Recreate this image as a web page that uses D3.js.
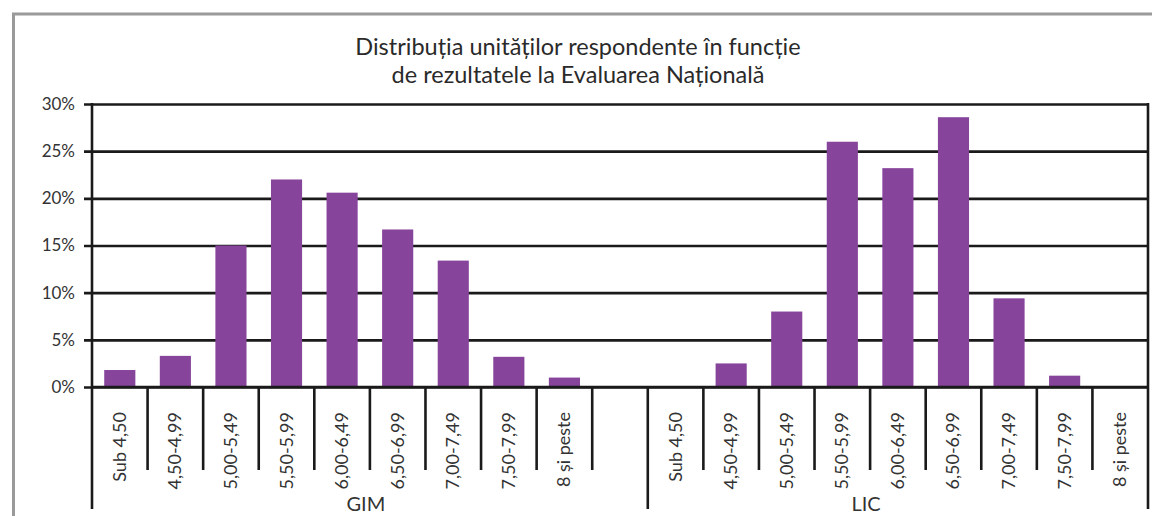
<!DOCTYPE html>
<html>
<head>
<meta charset="utf-8">
<script src="https://cdn.jsdelivr.net/npm/d3@7"></script>
<style>
  html, body { margin: 0; padding: 0; background: #fff; }
  svg { display: block; font-family: Lato, "Open Sans", sans-serif; }
</style>
</head>
<body>
<div id="chart"></div>
<script>
(() => {
// categories (score bands) shown for each school type
const scoreBands = ['Sub 4,50', '4,50-4,99', '5,00-5,49', '5,50-5,99', '6,00-6,49', '6,50-6,99', '7,00-7,49', '7,50-7,99', '8 și peste'];
const groups = ['GIM', 'LIC'];
// percentages
const gimValues = [1.8, 3.3, 15.0, 22.0, 20.6, 16.7, 13.4, 3.2, 1.0];
const licValues = [0, 2.5, 8.0, 26.0, 23.2, 28.6, 9.4, 1.2, 0];
const yTicks = [0, 5, 10, 15, 20, 25, 30];
const titleLines = ['Distribuția unităților respondente în funcție', 'de rezultatele la Evaluarea Națională'];

const width = 1152;
const height = 516;
const left = 92, right = 1148, top = 104, bottom = 387;

// one empty slot between the two groups, like the original sheet
const rows = [];
scoreBands.forEach((b, i) => rows.push({ key: 'GIM|' + b, group: 'GIM', band: b, value: gimValues[i] }));
rows.push({ key: 'gap', group: null, band: '', value: null });
scoreBands.forEach((b, i) => rows.push({ key: 'LIC|' + b, group: 'LIC', band: b, value: licValues[i] }));

const svg = d3.select('#chart')
    .append('svg')
    .attr('width', width)
    .attr('height', height);

// grey frame of the page
svg.append('rect')
    .attr('x', 13.5).attr('y', 14)
    .attr('width', width + 20).attr('height', height + 20)
    .attr('fill', 'none')
    .attr('stroke', '#9a9a9a')
    .attr('stroke-width', 3);

const x = d3.scaleBand().domain(rows.map(d => d.key)).range([left, right]);
const xBar = d3.scaleBand().domain(rows.map(d => d.key)).range([left, right])
    .paddingInner(0.44).paddingOuter(0.22);
const y = d3.scaleLinear().domain([0, 30]).range([bottom, top]);

// title
svg.append('g').selectAll('text')
    .data(titleLines)
    .enter()
    .append('text')
    .attr('x', 578)
    .attr('y', (d, i) => 55 + i * 28)
    .attr('text-anchor', 'middle')
    .attr('font-size', 23.5)
    .attr('fill', '#2a2a2a')
    .text(d => d);

// y axis with full width grid lines
const yAxis = svg.append('g')
    .attr('transform', `translate(${left},0)`)
    .call(d3.axisLeft(y).tickValues(yTicks).tickSize(-(right - left)).tickPadding(17).tickFormat(d => d + '%'));
yAxis.select('.domain').remove();
yAxis.selectAll('.tick line')
    .attr('x1', -8)
    .attr('stroke', '#1a1a1a')
    .attr('stroke-width', 2.6);
yAxis.selectAll('.tick text')
    .attr('font-size', 17)
    .attr('font-family', 'Lato, "Open Sans", sans-serif')
    .attr('fill', '#333');

// bars
svg.append('g').selectAll('rect')
    .data(rows.filter(d => d.value))
    .enter()
    .append('rect')
    .attr('x', d => xBar(d.key))
    .attr('y', d => y(d.value))
    .attr('width', xBar.bandwidth())
    .attr('height', d => y(0) - y(d.value))
    .attr('fill', '#86459b');

// plot frame: left axis, right border, base line
const frame = svg.append('g').attr('stroke', '#1a1a1a').attr('stroke-width', 2.6);
frame.append('line').attr('x1', left).attr('x2', right).attr('y1', y(0)).attr('y2', y(0));

// category dividers under the axis
const keys = rows.map(d => d.key);
const edges = d3.range(keys.length + 1).map(k => ({
    k,
    xPos: k < keys.length ? x(keys[k]) : right,
    long: k === 0 || k === keys.length || keys[k - 1] === 'gap'
}));
frame.selectAll('line.div')
    .data(edges)
    .enter()
    .append('line')
    .attr('class', 'div')
    .attr('x1', d => d.xPos).attr('x2', d => d.xPos)
    .attr('y1', d => d.k === 0 || d.k === keys.length ? top - 1 : y(0))
    .attr('y2', d => d.long ? 509 : 470);

// rotated category labels
svg.append('g').selectAll('text')
    .data(rows.filter(d => d.group))
    .enter()
    .append('text')
    .attr('transform', d => `translate(${x(d.key) + x.bandwidth() / 2 + 6},412) rotate(-90)`)
    .attr('text-anchor', 'end')
    .attr('font-size', 18)
    .attr('fill', '#333')
    .text(d => d.band);

// group labels
const groupSpans = [
    { name: groups[0], from: 'GIM|' + scoreBands[0], to: 'gap' },
    { name: groups[1], from: 'gap', to: 'LIC|' + scoreBands[scoreBands.length - 1] }
];
svg.append('g').selectAll('text')
    .data(groupSpans)
    .enter()
    .append('text')
    .attr('x', d => (x(d.from) + x(d.to) + x.bandwidth()) / 2 - 4)
    .attr('y', 511)
    .attr('text-anchor', 'middle')
    .attr('font-size', 20)
    .attr('fill', '#333')
    .text(d => d.name);
})();
</script>
</body>
</html>
